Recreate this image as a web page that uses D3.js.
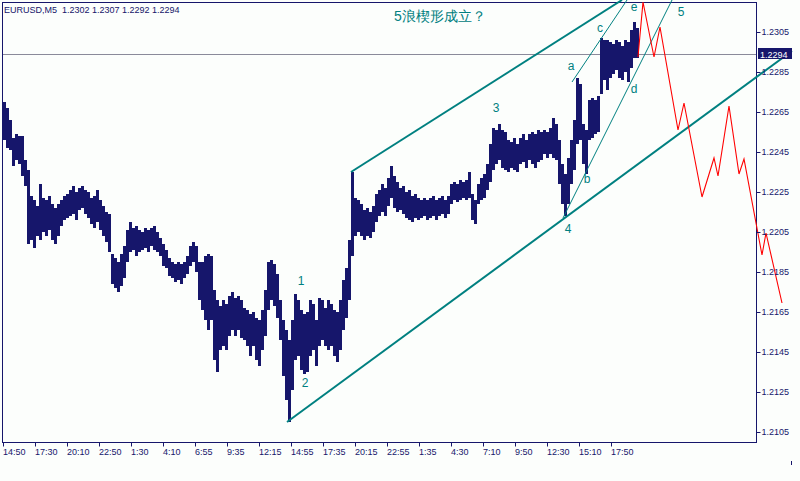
<!DOCTYPE html>
<html><head><meta charset="utf-8">
<script src="https://cdn.jsdelivr.net/npm/d3@7"></script>
<style>
html,body{margin:0;padding:0;background:#fcfefc;}
svg{display:block;}
text{font-family:"Liberation Sans",Arial,sans-serif;}
</style></head>
<body>
<script>
// ---- data ----
const symbolTitle = "EURUSD,M5  1.2302 1.2307 1.2292 1.2294";
const lastPrice = 1.2294;
const annotation = "5浪楔形成立？";
// M15-aggregated bar highs / lows (each covers three M5 bars)
const barHighs = [
1.2270,1.2267,1.2261,1.2252,1.2254,1.2253,1.2253,1.2241,1.2236,1.2223,1.2221,1.2218,1.2229,1.2222,1.2221,1.2223,1.2219,1.2217,1.2219,1.2221,
1.2223,1.2224,1.2226,1.2228,1.2225,1.2227,1.2228,1.2226,1.2225,1.2222,1.2223,1.2226,1.2221,1.2218,1.2215,1.2214,1.2194,1.2192,1.2190,1.2194,
1.2198,1.2206,1.2210,1.2207,1.2208,1.2206,1.2205,1.2207,1.2206,1.2207,1.2208,1.2205,1.2202,1.2199,1.2196,1.2192,1.2190,1.2189,1.2190,1.2189,
1.2190,1.2193,1.2198,1.2200,1.2198,1.2190,1.2190,1.2193,1.2194,1.2193,1.2176,1.2171,1.2168,1.2171,1.2169,1.2173,1.2175,1.2172,1.2173,1.2171,
1.2167,1.2166,1.2164,1.2165,1.2162,1.2161,1.2166,1.2176,1.2190,1.2191,1.2189,1.2184,1.2171,1.2161,1.2156,1.2151,1.2161,1.2174,1.2171,1.2166,
1.2164,1.2165,1.2171,1.2169,1.2161,1.2172,1.2171,1.2167,1.2171,1.2169,1.2166,1.2165,1.2171,1.2181,1.2187,1.2201,1.2235,1.2222,1.2221,1.2219,
1.2216,1.2217,1.2215,1.2218,1.2224,1.2226,1.2229,1.2227,1.2232,1.2238,1.2233,1.2230,1.2227,1.2228,1.2225,1.2226,1.2223,1.2224,1.2222,1.2221,
1.2222,1.2221,1.2222,1.2223,1.2221,1.2222,1.2223,1.2221,1.2223,1.2229,1.2230,1.2229,1.2231,1.2230,1.2231,1.2235,1.2224,1.2221,1.2229,1.2232,
1.2234,1.2239,1.2249,1.2257,1.2256,1.2259,1.2256,1.2255,1.2251,1.2250,1.2252,1.2249,1.2252,1.2254,1.2251,1.2254,1.2255,1.2254,1.2256,1.2255,
1.2256,1.2255,1.2257,1.2262,1.2259,1.2251,1.2239,1.2234,1.2242,1.2251,1.2261,1.2282,1.2279,1.2259,1.2256,1.2271,1.2272,1.2271,1.2273,1.2302,
1.2301,1.2301,1.2300,1.2299,1.2301,1.2300,1.2298,1.2301,1.2300,1.2306,1.2310,1.2307];
const barLows = [
1.2251,1.2247,1.2246,1.2238,1.2241,1.2239,1.2233,1.2228,1.2199,1.2201,1.2197,1.2203,1.2201,1.2205,1.2203,1.2206,1.2201,1.2199,1.2203,1.2208,
1.2211,1.2212,1.2213,1.2214,1.2211,1.2216,1.2217,1.2214,1.2212,1.2209,1.2207,1.2210,1.2206,1.2203,1.2200,1.2195,1.2179,1.2177,1.2175,1.2178,
1.2182,1.2190,1.2195,1.2196,1.2193,1.2195,1.2196,1.2197,1.2195,1.2198,1.2196,1.2195,1.2193,1.2188,1.2187,1.2183,1.2182,1.2180,1.2181,1.2179,
1.2182,1.2184,1.2188,1.2190,1.2185,1.2171,1.2166,1.2161,1.2156,1.2161,1.2141,1.2135,1.2146,1.2148,1.2146,1.2153,1.2156,1.2153,1.2156,1.2152,
1.2151,1.2148,1.2143,1.2148,1.2141,1.2138,1.2146,1.2153,1.2166,1.2171,1.2168,1.2162,1.2151,1.2133,1.2121,1.2110,1.2126,1.2141,1.2143,1.2136,
1.2134,1.2135,1.2143,1.2146,1.2138,1.2148,1.2151,1.2148,1.2146,1.2148,1.2143,1.2140,1.2146,1.2156,1.2162,1.2171,1.2193,1.2203,1.2205,1.2203,
1.2201,1.2203,1.2202,1.2205,1.2210,1.2213,1.2215,1.2213,1.2218,1.2222,1.2217,1.2215,1.2216,1.2214,1.2212,1.2211,1.2210,1.2212,1.2211,1.2212,
1.2213,1.2211,1.2212,1.2213,1.2211,1.2213,1.2214,1.2212,1.2214,1.2219,1.2221,1.2220,1.2221,1.2222,1.2221,1.2222,1.2211,1.2209,1.2219,1.2221,
1.2222,1.2226,1.2230,1.2236,1.2239,1.2241,1.2237,1.2236,1.2235,1.2237,1.2236,1.2235,1.2239,1.2240,1.2237,1.2241,1.2239,1.2237,1.2240,1.2241,
1.2244,1.2242,1.2244,1.2242,1.2241,1.2229,1.2219,1.2213,1.2219,1.2229,1.2236,1.2249,1.2251,1.2239,1.2234,1.2251,1.2252,1.2254,1.2255,1.2274,
1.2281,1.2276,1.2282,1.2284,1.2286,1.2282,1.2281,1.2285,1.2280,1.2287,1.2292,1.2292];
const barsPerGroup = 3;           // M5 bars per aggregated bar
// projected path (M5 bar index, price)
const projIndex = [635,640,651,657,675,681,699,711,715,726,736,741,759,763,779];
const projPrice = [1.22925,1.2320,1.22925,1.23075,1.2256,1.22695,1.22225,1.2242,1.2233,1.2268,1.2234,1.22415,1.21935,1.22045,1.21695];
// trend lines: [index1, price1, index2, price2, width]
const trendLines = [
  [348,1.2235,619,1.2321,2],
  [284,1.2110,789,1.22955,2],
  [560,1.2212,669,1.2321,1],
  [569,1.2280,624,1.2321,1]
];
// wave labels (M5 index, baseline price)
const waveText  = ["1","2","3","4","5","a","b","c","d","e"];
const waveIndex = [298,302,493,565,678,568,584,597,631,631];
const wavePrice = [1.21785,1.21275,1.2265,1.22045,1.2313,1.2286,1.22295,1.2305,1.22745,1.23155];
// axes
const priceTicks = [1.2105,1.2125,1.2145,1.2165,1.2185,1.2205,1.2225,1.2245,1.2265,1.2285,1.2305];
const timeTickIndex = [0,32,64,96,128,160,192,224,256,288,320,352,384,416,448,480,512,544,576,608];
const timeTickLabels = ["14:50","17:30","20:10","22:50","1:30","4:10","6:55","9:35","12:15","14:55","17:35","20:15","22:55","1:35","4:30","7:10","9:50","12:30","15:10","17:50"];

// ---- drawing ----
const W = 800, H = 481;
const navy = "#16166b", teal = "#008080";
const svg = d3.select("body").append("svg").attr("width", W).attr("height", H);
svg.append("rect").attr("width", W).attr("height", H).attr("fill", "#fcfefc");

const x = d3.scaleLinear().domain([0, 753]).range([3, 756]);
const y = d3.scaleLinear().domain([1.2100, 1.2320]).range([442, 2]);

// current price line
svg.append("line").attr("x1", 2).attr("x2", 756)
  .attr("y1", Math.round(y(lastPrice)) + 0.5).attr("y2", Math.round(y(lastPrice)) + 0.5)
  .attr("stroke", "#8a8a9a").attr("stroke-width", 1);

// bars
const bw = x(barsPerGroup) - x(0);
svg.append("g").selectAll("rect").data(barHighs).join("rect")
  .attr("x", (d, i) => x(i * barsPerGroup))
  .attr("width", bw)
  .attr("y", d => y(d))
  .attr("height", (d, i) => Math.max(1, y(barLows[i]) - y(d)))
  .attr("fill", navy)
  .attr("shape-rendering", "crispEdges");

// frame
svg.append("rect").attr("x", 2.5).attr("y", 2.5).attr("width", 754).attr("height", 440)
  .attr("fill", "none").attr("stroke", navy).attr("stroke-width", 1);

// trend lines
svg.append("g").selectAll("line").data(trendLines).join("line")
  .attr("x1", d => x(d[0])).attr("y1", d => y(d[1]))
  .attr("x2", d => x(d[2])).attr("y2", d => y(d[3]))
  .attr("stroke", teal).attr("stroke-width", d => d[4]);

// projection
const proj = projIndex.map((d, i) => [d, projPrice[i]]);
svg.append("path").datum(proj)
  .attr("d", d3.line().x(d => x(d[0])).y(d => y(d[1])))
  .attr("fill", "none").attr("stroke", "#ff0000").attr("stroke-width", 1.1);

// y axis
const yAxis = svg.append("g").attr("transform", "translate(756.5,0)")
  .call(d3.axisRight(y).tickValues(priceTicks).tickFormat(d3.format(".4f")).tickSize(4).tickSizeOuter(0).tickPadding(1));
yAxis.select(".domain").remove();
yAxis.selectAll("line").attr("stroke", navy);
yAxis.selectAll("text").attr("fill", navy).attr("font-size", 9).attr("font-family", "Liberation Sans, Arial, sans-serif");

// x axis
const xAxis = svg.append("g").attr("transform", "translate(0,442.5)")
  .call(d3.axisBottom(x).tickValues(timeTickIndex).tickFormat((d, i) => timeTickLabels[i]).tickSize(4).tickSizeOuter(0).tickPadding(2));
xAxis.select(".domain").remove();
xAxis.selectAll("line").attr("stroke", navy);
xAxis.selectAll("text").attr("fill", navy).attr("font-size", 9).attr("text-anchor", "start").attr("dx", -0.5)
  .attr("font-family", "Liberation Sans, Arial, sans-serif");

// current price label
const ly = Math.round(y(lastPrice));
svg.append("rect").attr("x", 758).attr("y", ly - 6).attr("width", 34).attr("height", 11).attr("fill", navy);
svg.append("text").attr("x", 760).attr("y", ly + 3.5).attr("fill", "#ffffff").attr("font-size", 9)
  .text(d3.format(".4f")(lastPrice));

// header
svg.append("text").attr("x", 4).attr("y", 12.5).attr("fill", navy).attr("font-size", 9)
  .style("white-space", "pre").text(symbolTitle);

// annotation
svg.append("text").attr("x", 440).attr("y", 21).attr("text-anchor", "middle").attr("fill", teal)
  .attr("font-size", 14).attr("font-family", "Noto Sans CJK SC, sans-serif").text(annotation);

// wave labels
svg.append("g").selectAll("text").data(waveText).join("text")
  .attr("x", (d, i) => x(waveIndex[i])).attr("y", (d, i) => y(wavePrice[i]))
  .attr("text-anchor", "middle")
  .attr("fill", teal).attr("font-size", 12).attr("font-family", "DejaVu Sans, sans-serif")
  .text(d => d);

// small mark bottom-right
svg.append("line").attr("x1", 791.5).attr("x2", 791.5).attr("y1", 461).attr("y2", 465).attr("stroke", navy);
</script>
</body></html>
